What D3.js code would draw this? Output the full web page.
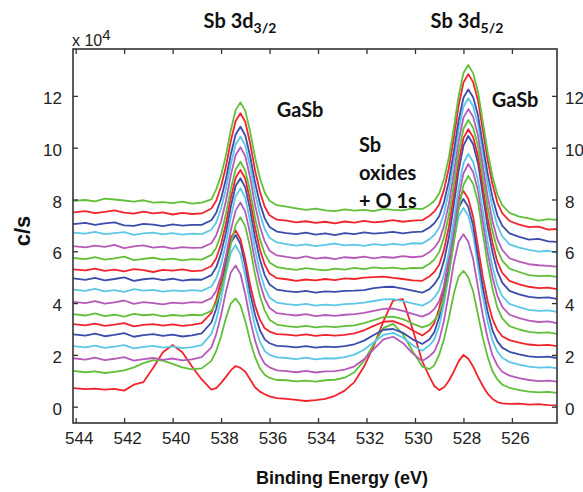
<!DOCTYPE html>
<html>
<head>
<meta charset="utf-8">
<script src="https://cdn.jsdelivr.net/npm/d3@7"></script>
<style>
  html, body { margin: 0; padding: 0; background: #fff; }
  svg { display: block; }
  .tick text { font-family: "Liberation Sans", Arial, sans-serif; font-size: 17px; fill: #222; }
  .tick line { stroke: #333; stroke-width: 1.3; }
</style>
</head>
<body>
<svg id="chart" width="583" height="492"></svg>
<script>
// Binding energies (eV) shared by every scan
const energy = [544.1, 543.6, 543.2, 542.8, 542.4, 542.0, 541.6, 541.2, 540.8, 540.4, 540.0, 539.6, 539.2,
  538.8, 538.4, 538.2, 538.0, 537.8, 537.6, 537.4, 537.2, 537.0, 536.8, 536.6, 536.4, 536.2, 536.0, 535.7,
  535.3, 534.9, 534.5, 534.1, 533.7, 533.3, 532.9, 532.5, 532.1, 531.7, 531.3, 530.9, 530.5, 530.1, 529.7,
  529.4, 529.2, 529.0, 528.8, 528.6, 528.4, 528.2, 528.0, 527.8, 527.6, 527.4, 527.2, 527.0, 526.8, 526.6, 526.4, 526.1, 525.7,
  525.3, 524.9, 524.5, 524.15];

// Intensity of each scan (x 10^4 c/s, stacked), bottom scan first
const scan00 = [0.72, 0.68, 0.70, 0.66, 0.69, 0.62, 0.85, 0.95, 1.50, 2.10, 2.38, 2.10, 1.55,
  1.05, 0.66, 0.72, 0.92, 1.15, 1.40, 1.57, 1.50, 1.35, 1.05, 0.75, 0.58, 0.48, 0.40, 0.33,
  0.30, 0.26, 0.22, 0.25, 0.30, 0.42, 0.62, 0.95, 1.55, 2.35, 3.30, 4.10, 4.15, 3.00, 1.75,
  1.15, 0.80, 0.64, 0.75, 1.00, 1.35, 1.75, 2.00, 1.85, 1.55, 1.15, 0.80, 0.50, 0.30, 0.18, 0.13, 0.11, 0.12,
  0.08, 0.10, 0.06, 0.05];
const scan01 = [1.38, 1.33, 1.36, 1.30, 1.34, 1.40, 1.52, 1.68, 1.80, 1.78, 1.65, 1.52, 1.44,
  1.48, 1.77, 2.15, 2.72, 3.42, 3.98, 4.18, 3.92, 3.30, 2.54, 1.92, 1.48, 1.23, 1.11, 1.03,
  1.02, 0.98, 1.01, 0.97, 1.02, 1.04, 1.12, 1.33, 1.78, 2.42, 3.04, 3.20, 2.80, 2.15, 1.55,
  1.45, 1.60, 2.01, 2.61, 3.43, 4.35, 5.02, 5.25, 5.00, 4.45, 3.55, 2.65, 1.92, 1.37, 1.05, 0.85, 0.73, 0.64,
  0.58, 0.55, 0.57, 0.53];
const scan02 = [1.87, 1.82, 1.89, 1.80, 1.85, 1.91, 1.78, 1.84, 1.88, 1.81, 1.86, 1.79, 1.83,
  1.91, 2.29, 2.80, 3.53, 4.45, 5.18, 5.45, 5.12, 4.33, 3.35, 2.56, 1.99, 1.66, 1.52, 1.40,
  1.37, 1.33, 1.38, 1.32, 1.36, 1.37, 1.43, 1.56, 1.83, 2.22, 2.60, 2.70, 2.46, 2.06, 1.76,
  1.95, 2.13, 2.57, 3.34, 4.39, 5.54, 6.37, 6.66, 6.37, 5.70, 4.61, 3.52, 2.64, 1.98, 1.59, 1.35, 1.20, 1.10,
  1.03, 0.99, 1.01, 0.97];
const scan03 = [2.34, 2.29, 2.36, 2.27, 2.32, 2.38, 2.25, 2.31, 2.35, 2.28, 2.33, 2.26, 2.30,
  2.38, 2.81, 3.35, 4.15, 5.15, 5.94, 6.24, 5.88, 5.03, 3.97, 3.11, 2.51, 2.15, 2.00, 1.90,
  1.88, 1.84, 1.89, 1.83, 1.87, 1.86, 1.91, 2.01, 2.20, 2.49, 2.77, 2.85, 2.67, 2.37, 2.16,
  2.37, 2.60, 3.12, 3.98, 5.14, 6.41, 7.34, 7.67, 7.37, 6.64, 5.44, 4.24, 3.28, 2.55, 2.13, 1.89, 1.72, 1.62,
  1.55, 1.51, 1.53, 1.49];
const scan04 = [2.79, 2.74, 2.82, 2.72, 2.77, 2.84, 2.70, 2.76, 2.80, 2.73, 2.78, 2.71, 2.75,
  2.83, 3.25, 3.78, 4.56, 5.55, 6.33, 6.63, 6.28, 5.44, 4.39, 3.55, 2.96, 2.60, 2.45, 2.35,
  2.33, 2.29, 2.34, 2.28, 2.32, 2.30, 2.34, 2.41, 2.55, 2.77, 2.97, 3.00, 2.85, 2.60, 2.42,
  2.60, 2.88, 3.45, 4.32, 5.47, 6.76, 7.68, 8.02, 7.71, 6.99, 5.79, 4.61, 3.66, 2.94, 2.52, 2.28, 2.12, 2.02,
  1.94, 1.91, 1.93, 1.88];
const scan05 = [3.19, 3.14, 3.21, 3.12, 3.17, 3.23, 3.10, 3.16, 3.19, 3.13, 3.18, 3.12, 3.16,
  3.23, 3.62, 4.12, 4.86, 5.78, 6.52, 6.80, 6.47, 5.68, 4.70, 3.91, 3.36, 3.03, 2.90, 2.80,
  2.78, 2.74, 2.79, 2.73, 2.77, 2.74, 2.77, 2.83, 2.95, 3.12, 3.28, 3.30, 3.16, 2.95, 2.75,
  2.95, 3.23, 3.79, 4.65, 5.80, 7.07, 7.98, 8.33, 8.03, 7.33, 6.17, 5.01, 4.07, 3.38, 2.96, 2.72, 2.57, 2.47,
  2.40, 2.37, 2.39, 2.34];
const scan06 = [3.57, 3.52, 3.60, 3.50, 3.55, 3.48, 3.58, 3.53, 3.56, 3.49, 3.54, 3.51, 3.55,
  3.53, 3.70, 3.99, 4.51, 5.28, 6.26, 7.02, 7.31, 6.96, 6.14, 5.11, 4.28, 3.71, 3.36, 3.17,
  3.11, 3.07, 3.12, 3.06, 3.10, 3.07, 3.11, 3.14, 3.23, 3.34, 3.46, 3.48, 3.38, 3.21, 3.06,
  3.16, 3.34, 3.63, 4.22, 5.12, 6.30, 7.61, 8.56, 8.91, 8.61, 7.90, 6.69, 5.50, 4.55, 3.82, 3.41, 3.11, 2.98,
  2.89, 2.85, 2.87, 2.81];
const scan07 = [4.05, 4.00, 4.08, 3.98, 4.03, 4.10, 3.97, 4.04, 4.00, 3.95, 4.02, 3.99, 4.04,
  4.02, 4.19, 4.48, 5.02, 5.81, 6.80, 7.58, 7.88, 7.52, 6.67, 5.62, 4.77, 4.17, 3.81, 3.61,
  3.56, 3.52, 3.57, 3.50, 3.54, 3.51, 3.55, 3.57, 3.62, 3.70, 3.78, 3.79, 3.70, 3.58, 3.48,
  3.60, 3.78, 4.07, 4.66, 5.56, 6.74, 8.06, 9.01, 9.37, 9.06, 8.35, 7.15, 5.95, 4.99, 4.28, 3.85, 3.55, 3.42,
  3.32, 3.27, 3.29, 3.23];
const scan08 = [4.52, 4.47, 4.55, 4.45, 4.50, 4.43, 4.54, 4.48, 4.51, 4.44, 4.49, 4.46, 4.50,
  4.47, 4.64, 4.95, 5.50, 6.30, 7.32, 8.12, 8.43, 8.05, 7.17, 6.09, 5.21, 4.59, 4.21, 4.02,
  3.96, 3.92, 3.97, 3.90, 3.94, 3.91, 3.96, 3.98, 4.02, 4.08, 4.14, 4.15, 4.08, 3.99, 3.90,
  4.04, 4.22, 4.50, 5.10, 5.97, 7.16, 8.46, 9.40, 9.76, 9.45, 8.74, 7.55, 6.36, 5.40, 4.69, 4.27, 3.97, 3.84,
  3.74, 3.70, 3.72, 3.66];
const scan09 = [4.95, 4.90, 4.97, 4.88, 4.93, 4.99, 4.86, 4.92, 4.95, 4.89, 4.94, 4.87, 4.91,
  4.90, 5.08, 5.38, 5.93, 6.72, 7.72, 8.52, 8.82, 8.46, 7.60, 6.54, 5.69, 5.08, 4.72, 4.52,
  4.46, 4.42, 4.47, 4.40, 4.45, 4.43, 4.47, 4.48, 4.50, 4.58, 4.62, 4.63, 4.56, 4.48, 4.40,
  4.54, 4.73, 5.02, 5.64, 6.54, 7.77, 9.10, 10.08, 10.45, 10.13, 9.40, 8.17, 6.94, 5.95, 5.22, 4.79, 4.47, 4.34,
  4.24, 4.20, 4.22, 4.16];
const scan10 = [5.30, 5.26, 5.33, 5.24, 5.29, 5.22, 5.31, 5.27, 5.20, 5.28, 5.25, 5.30, 5.23,
  5.25, 5.43, 5.73, 6.28, 7.06, 8.05, 8.84, 9.14, 8.80, 7.95, 6.92, 6.08, 5.49, 5.14, 4.96,
  4.92, 4.86, 4.91, 4.88, 4.93, 4.89, 4.95, 4.93, 4.98, 5.00, 5.02, 4.97, 4.93, 4.88, 4.86,
  5.03, 5.20, 5.48, 6.07, 6.95, 8.13, 9.43, 10.37, 10.71, 10.40, 9.68, 8.48, 7.28, 6.32, 5.59, 5.17, 4.86, 4.72,
  4.63, 4.58, 4.60, 4.54];
const scan11 = [5.74, 5.70, 5.77, 5.68, 5.73, 5.79, 5.66, 5.71, 5.75, 5.68, 5.72, 5.65, 5.70,
  5.68, 5.86, 6.14, 6.67, 7.44, 8.40, 9.16, 9.46, 9.11, 8.31, 7.30, 6.48, 5.91, 5.57, 5.39,
  5.33, 5.28, 5.35, 5.30, 5.26, 5.33, 5.29, 5.36, 5.31, 5.38, 5.34, 5.37, 5.32, 5.36, 5.35,
  5.52, 5.69, 5.97, 6.54, 7.40, 8.54, 9.81, 10.73, 11.07, 10.77, 10.06, 8.88, 7.71, 6.77, 6.06, 5.64, 5.33, 5.20,
  5.08, 5.04, 5.06, 5.01];
const scan12 = [6.20, 6.15, 6.22, 6.17, 6.25, 6.12, 6.19, 6.23, 6.14, 6.18, 6.10, 6.16, 6.13,
  6.14, 6.31, 6.62, 7.15, 7.94, 8.93, 9.72, 10.02, 9.67, 8.84, 7.79, 6.96, 6.38, 6.02, 5.84,
  5.78, 5.73, 5.80, 5.72, 5.76, 5.70, 5.77, 5.74, 5.79, 5.73, 5.78, 5.75, 5.81, 5.77, 5.80,
  5.97, 6.14, 6.41, 6.98, 7.84, 8.99, 10.25, 11.16, 11.49, 11.19, 10.47, 9.30, 8.11, 7.17, 6.46, 6.05, 5.73, 5.60,
  5.50, 5.46, 5.44, 5.41];
const scan13 = [6.72, 6.68, 6.75, 6.66, 6.70, 6.74, 6.63, 6.69, 6.72, 6.65, 6.70, 6.64, 6.68,
  6.66, 6.83, 7.11, 7.65, 8.41, 9.36, 10.13, 10.42, 10.08, 9.26, 8.26, 7.44, 6.86, 6.52, 6.34,
  6.28, 6.22, 6.27, 6.20, 6.25, 6.30, 6.23, 6.26, 6.21, 6.28, 6.24, 6.29, 6.25, 6.31, 6.30,
  6.47, 6.63, 6.91, 7.47, 8.32, 9.45, 10.68, 11.58, 11.91, 11.60, 10.91, 9.76, 8.61, 7.68, 6.99, 6.58, 6.27, 6.14,
  6.05, 5.99, 6.02, 5.95];
const scan14 = [7.05, 7.10, 7.02, 7.08, 7.12, 7.00, 6.98, 7.06, 7.03, 6.97, 7.04, 6.99, 7.02,
  7.02, 7.20, 7.49, 8.03, 8.79, 9.74, 10.51, 10.81, 10.47, 9.66, 8.66, 7.85, 7.27, 6.94, 6.76,
  6.70, 6.66, 6.72, 6.64, 6.69, 6.62, 6.70, 6.66, 6.73, 6.68, 6.71, 6.75, 6.69, 6.74, 6.76,
  6.92, 7.08, 7.35, 7.90, 8.72, 9.84, 11.05, 11.93, 12.25, 11.95, 11.26, 10.12, 8.99, 8.08, 7.39, 6.99, 6.69, 6.56,
  6.45, 6.48, 6.38, 6.36];
const scan15 = [7.50, 7.55, 7.47, 7.52, 7.58, 7.49, 7.45, 7.53, 7.46, 7.50, 7.42, 7.48, 7.44,
  7.46, 7.65, 7.95, 8.50, 9.27, 10.25, 11.03, 11.33, 10.99, 10.16, 9.13, 8.31, 7.72, 7.39, 7.22,
  7.18, 7.12, 7.16, 7.10, 7.14, 7.08, 7.15, 7.11, 7.17, 7.12, 7.15, 7.20, 7.14, 7.18, 7.20,
  7.37, 7.54, 7.81, 8.38, 9.22, 10.36, 11.61, 12.51, 12.84, 12.53, 11.83, 10.67, 9.51, 8.58, 7.88, 7.47, 7.17, 7.03,
  6.93, 6.95, 6.84, 6.86];
const scan16 = [7.95, 7.98, 7.93, 8.03, 8.00, 7.96, 7.92, 7.97, 7.88, 7.90, 7.86, 7.92, 7.84,
  7.88, 8.00, 8.39, 8.93, 9.70, 10.67, 11.45, 11.75, 11.42, 10.62, 9.63, 8.83, 8.27, 7.95, 7.78,
  7.72, 7.66, 7.60, 7.65, 7.58, 7.55, 7.62, 7.57, 7.60, 7.55, 7.64, 7.60, 7.58, 7.66, 7.63,
  7.79, 7.95, 8.23, 8.79, 9.63, 10.75, 11.98, 12.88, 13.19, 12.87, 12.16, 11.00, 9.83, 8.89, 8.19, 7.78, 7.48, 7.34,
  7.27, 7.18, 7.24, 7.21];

const scans = [scan00, scan01, scan02, scan03, scan04, scan05, scan06, scan07, scan08,
  scan09, scan10, scan11, scan12, scan13, scan14, scan15, scan16];

const energyTicks = [544, 542, 540, 538, 536, 534, 532, 530, 528, 526];
const countTicks = [0, 2, 4, 6, 8, 10, 12];

// colour cycle of the scans: red, green, magenta, cyan, blue
const palette = ["#f2242b", "#62bf3a", "#b65ab9", "#5cc7e6", "#3b4cab"];

const svg = d3.select("#chart");
const box = { left: 73, right: 557, top: 49, bottom: 423 };

const x = d3.scaleLinear().domain([544.11, 524.14]).range([box.left, box.right]);
const y = d3.scaleLinear().domain([-0.63, 13.81]).range([box.bottom, box.top]);

svg.append("rect").attr("width", 583).attr("height", 492).attr("fill", "#fff");

// spectra
const line = d3.line()
  .x((d, i) => x(energy[i]))
  .y(d => y(d));

svg.append("g")
  .selectAll("path")
  .data(scans)
  .join("path")
  .attr("d", d => line(d))
  .attr("fill", "none")
  .attr("stroke", (d, i) => palette[i % palette.length])
  .attr("stroke-width", 1.8)
  .attr("stroke-linejoin", "round");

// axes with inward ticks
const bottomAxis = svg.append("g")
  .attr("transform", `translate(0,${box.bottom})`)
  .call(d3.axisBottom(x).tickValues(energyTicks).tickSize(-5).tickPadding(9).tickFormat(d3.format("d")));
bottomAxis.selectAll(".tick text").attr("dx", 3);

svg.append("g")
  .attr("transform", `translate(0,${box.top})`)
  .call(d3.axisTop(x).tickValues(energyTicks).tickSize(-5).tickFormat(""));

const leftAxis = svg.append("g")
  .attr("transform", `translate(${box.left},0)`)
  .call(d3.axisLeft(y).tickValues(countTicks).tickSize(-5).tickPadding(11));
leftAxis.selectAll(".tick text").attr("dy", "0.45em");

const rightAxis = svg.append("g")
  .attr("transform", `translate(${box.right},0)`)
  .call(d3.axisRight(y).tickValues(countTicks).tickSize(-5).tickPadding(8));
rightAxis.selectAll(".tick text").attr("dy", "0.45em");

svg.selectAll(".domain").remove();

svg.append("rect")
  .attr("x", box.left).attr("y", box.top)
  .attr("width", box.right - box.left).attr("height", box.bottom - box.top)
  .attr("fill", "none").attr("stroke", "#333").attr("stroke-width", 1.6);

// scale factor
const mult = svg.append("text")
  .attr("x", 72).attr("y", 46)
  .attr("font-family", "Liberation Sans, Arial, sans-serif")
  .attr("font-size", 16).attr("fill", "#222");
mult.append("tspan").text("x 10");
mult.append("tspan").attr("dy", -6).attr("font-size", 15).text("4");

// axis titles
svg.append("text")
  .attr("transform", "translate(30,231) rotate(-90)")
  .attr("text-anchor", "middle")
  .attr("font-family", "Liberation Sans, Arial, sans-serif")
  .attr("font-weight", "bold").attr("font-size", 22).attr("fill", "#111")
  .text("c/s");

svg.append("text")
  .attr("x", 342).attr("y", 484)
  .attr("text-anchor", "middle")
  .attr("font-family", "Liberation Sans, Arial, sans-serif")
  .attr("font-weight", "bold").attr("font-size", 18).attr("fill", "#111")
  .text("Binding Energy (eV)");

// peak annotations
const labelFont = "Lato, 'Open Sans', sans-serif";
function orbital(cx, main, sub) {
  const t = svg.append("text")
    .attr("x", cx).attr("y", 28)
    .attr("text-anchor", "middle")
    .attr("font-family", labelFont).attr("font-weight", "bold")
    .attr("font-size", 20).attr("fill", "#111");
  t.append("tspan").text(main);
  t.append("tspan").attr("dy", 5).attr("font-size", 14).text(sub);
}
orbital(240, "Sb 3d", "3/2");
orbital(467, "Sb 3d", "5/2");

function note(px, py, lines, anchor) {
  const t = svg.append("text")
    .attr("font-family", labelFont).attr("font-weight", "bold")
    .attr("font-size", 20).attr("fill", "#111")
    .attr("text-anchor", anchor);
  lines.forEach((s, i) => {
    t.append("tspan").attr("x", px).attr("y", py + i * 28).text(s);
  });
}
note(300, 117, ["GaSb"], "middle");
note(515, 107, ["GaSb"], "middle");
note(359, 152, ["Sb", "oxides", "+ O 1s"], "start");
</script>
</body>
</html>
